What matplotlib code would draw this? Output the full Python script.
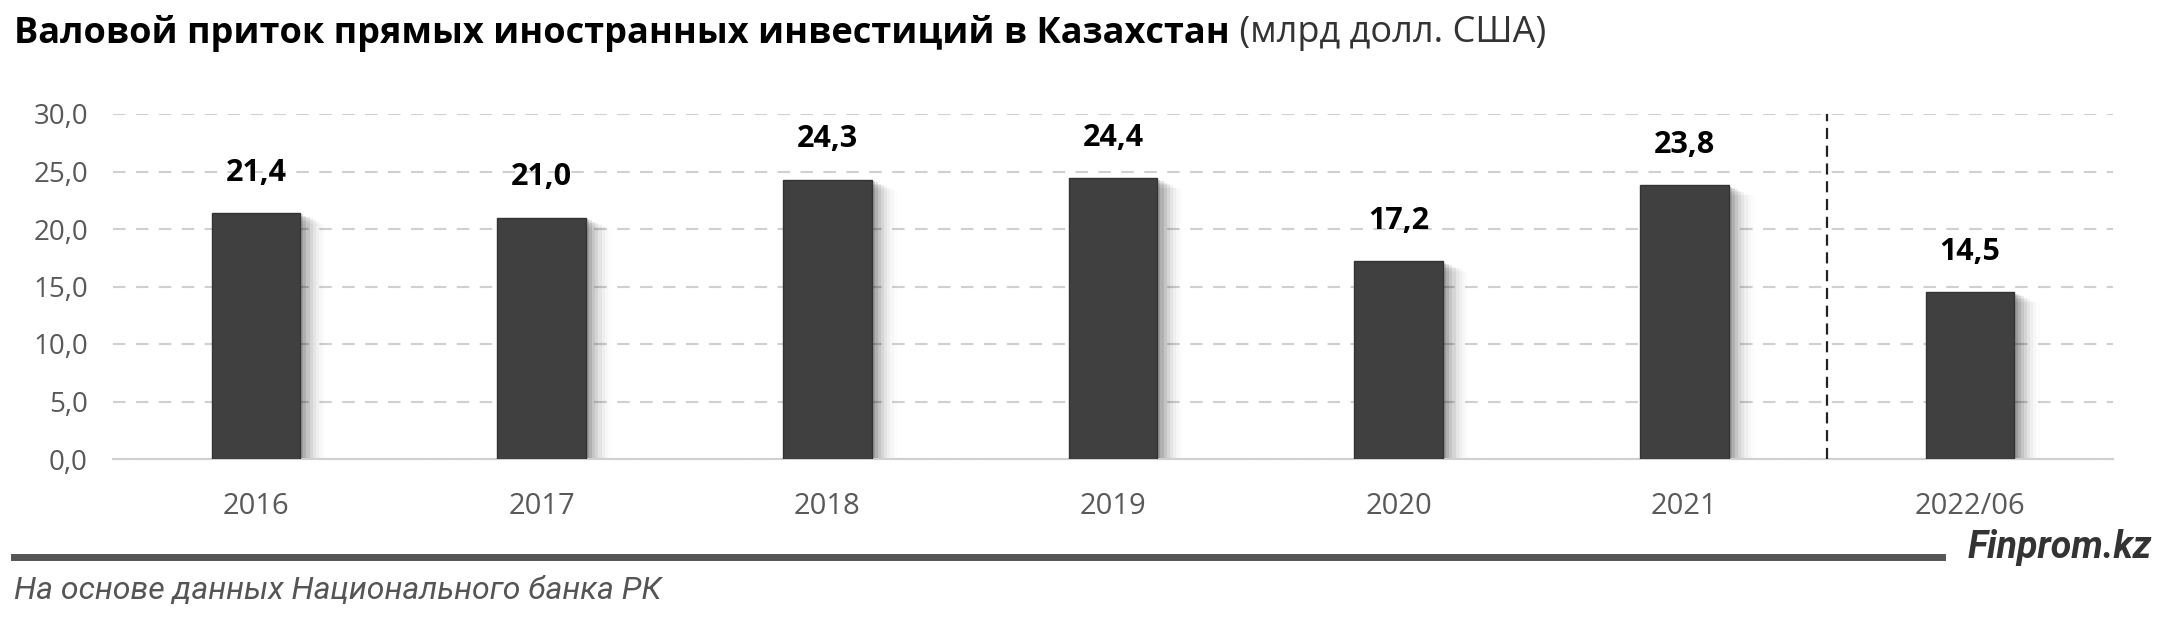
import matplotlib
matplotlib.use("Agg")
import matplotlib.pyplot as plt
import numpy as np

# данные
years = ["2016", "2017", "2018", "2019", "2020", "2021", "2022/06"]
values = [21.4, 21.0, 24.3, 24.4, 17.2, 23.8, 14.5]
yticks = [0, 5, 10, 15, 20, 25, 30]

title_bold = "Валовой приток прямых иностранных инвестиций в Казахстан"
title_rest = " (млрд долл. США)"
source = "На основе данных Национального банка РК"
brand = "Finprom.kz"

plt.rcParams['font.family'] = ['Open Sans', 'DejaVu Sans']

fig = plt.figure(figsize=(21.6, 6.21), dpi=100)
ax = fig.add_axes([113 / 2160, 1 - 459 / 621, 2000 / 2160, 345 / 621])

x = np.arange(len(years))
w = 0.31

# мягкая тень справа от столбцов
for i, a in enumerate([0.12, 0.10, 0.08, 0.06, 0.045, 0.03, 0.02, 0.012]):
    dx = 0.011 * (i + 1)
    ax.bar(x + dx, np.array(values) - 0.12 * (i + 1), width=w, bottom=0,
           color='black', alpha=a, zorder=2, linewidth=0)

ax.bar(x, values, width=w, color='#404040', edgecolor='#333333', linewidth=1, zorder=3)

for xi, v in zip(x, values):
    ax.annotate(f"{v:.1f}".replace('.', ','), (xi, v), xytext=(0, 29),
                textcoords='offset points', ha='center', va='center',
                fontsize=22, fontweight='bold', color='black')

ax.set_xlim(-0.5, len(years) - 0.5)
ax.set_ylim(0, 30)
ax.set_yticks(yticks)
ax.set_yticklabels([f"{t:.1f}".replace('.', ',') for t in yticks],
                   fontsize=20, color='#595959')
ax.set_xticks(x)
ax.set_xticklabels(years, fontsize=21, color='#595959')
ax.tick_params(axis='y', length=0, pad=18)
ax.tick_params(axis='x', length=0, pad=24)

ax.grid(axis='y', color='#d0d0d0', linestyle=(0, (6, 5)), linewidth=1.5, zorder=0)
for s in ['top', 'right', 'left']:
    ax.spines[s].set_visible(False)
ax.spines['bottom'].set_color('#d0d0d0')
ax.spines['bottom'].set_linewidth(1.5)

# граница между годами и полугодием
ax.plot([5.5, 5.5], [0, 30], color='#222222', linestyle=(0, (5, 3)), linewidth=1.6, zorder=4)

# заголовок
t1 = fig.text(14 / 2160, 1 - 33 / 621, title_bold, fontsize=26, fontweight='bold',
              ha='left', va='center', color='black')
fig.canvas.draw()
bb = t1.get_window_extent()
fig.text(bb.x1 / 2160, 1 - 33 / 621, title_rest, fontsize=26,
         ha='left', va='center', color='#333333')

# подвал
fig.add_artist(plt.Line2D([14 / 2160, 1942 / 2160], [1 - 557 / 621] * 2,
                          color='#555555', linewidth=5))
fig.text(2152 / 2160, 1 - 548 / 621, brand, fontsize=27, fontweight='bold',
         style='italic', ha='right', va='center', color='#333333',
         family=['Roboto', 'DejaVu Sans'])
fig.text(14 / 2160, 1 - 590 / 621, source, fontsize=23, style='italic',
         ha='left', va='center', color='#555555', family=['Roboto', 'DejaVu Sans'])

fig.savefig("out.png", dpi=100)
